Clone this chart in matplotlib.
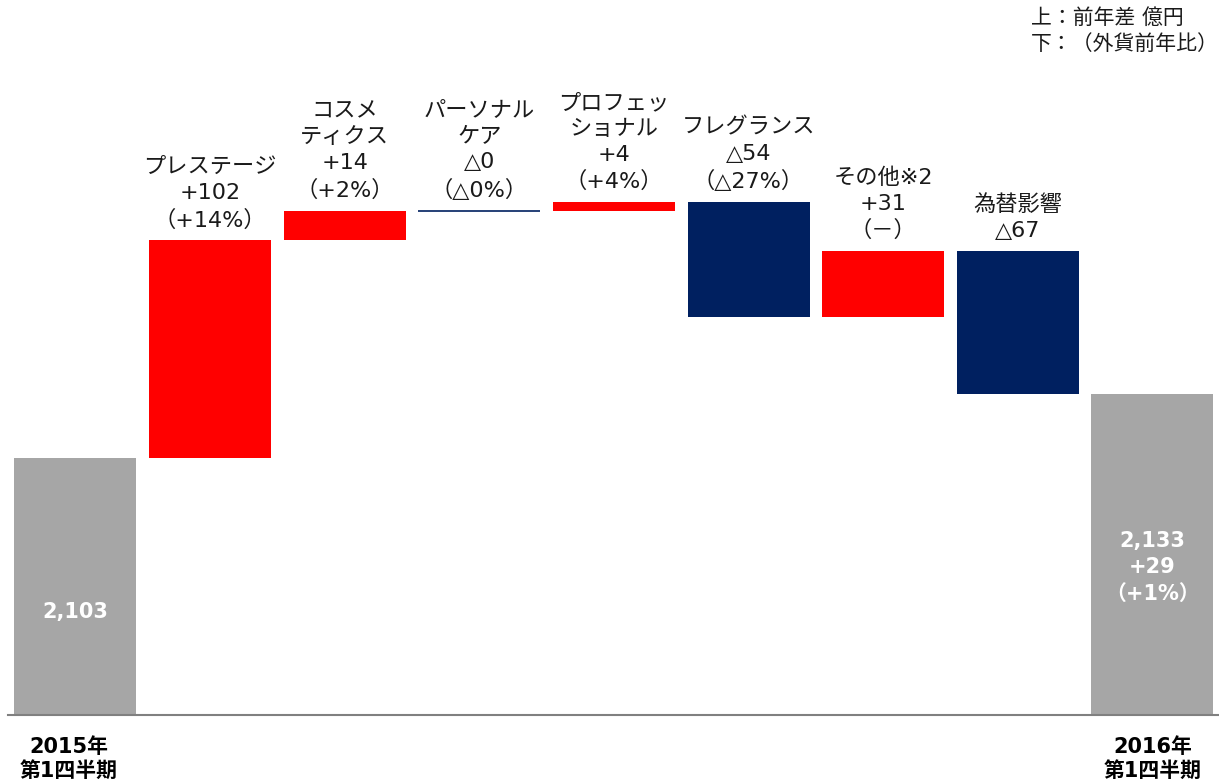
import matplotlib
matplotlib.use('Agg')
import matplotlib.pyplot as plt

plt.rcParams['font.family'] = ['DejaVu Sans', 'Noto Sans CJK JP']

# data
start_label = '2015年\n第1四半期'
end_label = '2016年\n第1四半期'
start_value = 2103
end_value = 2133
end_texts = ['2,133', '+29', '（+1%）']

categories = ['プレステージ', 'コスメ\nティクス', 'パーソナル\nケア', 'プロフェッ\nショナル',
              'フレグランス', 'その他※2', '為替影響']
deltas = [102, 14, 0, 4, -54, 31, -67]
delta_labels = ['+102', '+14', '△0', '+4', '△54', '+31', '△67']
pct_labels = ['（+14%）', '（+2%）', '（△0%）', '（+4%）', '（△27%）', '（－）', '']

RED = '#ff0000'
NAVY = '#002060'
GRAY = '#a6a6a6'
TXT = '#1a1a1a'

fig = plt.figure(figsize=(12.19, 7.82), dpi=100)
ax = fig.add_axes([8 / 1219, 67 / 782, 1211 / 1219, 715 / 782])
ybot = 1982.5
ax.set_xlim(-0.501, 8.495)
ax.set_ylim(ybot, 2317.7)
w = 0.906

# start / end bars
n = len(deltas) + 1
ax.bar(0, start_value - ybot, bottom=ybot, width=w, color=GRAY)
ax.bar(n, end_value - ybot, bottom=ybot, width=w, color=GRAY)
ax.text(0, ybot + 0.40 * (start_value - ybot), f'{start_value:,}', color='white',
        fontsize=15, fontweight='bold', ha='center', va='center')
ax.text(n, ybot + 0.46 * (end_value - ybot), '\n'.join(end_texts), color='white',
        fontsize=15, fontweight='bold', ha='center', va='center', linespacing=1.4)

# changes
level = start_value
for i, d in enumerate(deltas):
    x = i + 1
    if d == 0:
        ax.hlines(level, x - w / 2, x + w / 2, color=NAVY, lw=1.2)
    else:
        ax.bar(x, d, bottom=level, width=w, color=RED if d > 0 else NAVY)
    top = max(level, level + d)
    lines = [categories[i], delta_labels[i]]
    if pct_labels[i]:
        lines.append(pct_labels[i])
    ax.annotate('\n'.join(lines), (x, top), xytext=(0, 7), textcoords='offset points',
                ha='center', va='bottom', fontsize=16, color=TXT, linespacing=1.37)
    level += d

# category labels under the axis
for x, lab in [(0, start_label), (n, end_label)]:
    ax.annotate(lab, (x, ybot), xytext=(-5 if x == 0 else 0, -16), textcoords='offset points',
                ha='center', va='top', fontsize=15, fontweight='bold', color='black',
                linespacing=1.2, annotation_clip=False)

fig.text(1031 / 1219, 1 - 8 / 782, '上：前年差 億円\n下：（外貨前年比）', ha='left', va='top',
         fontsize=15, color=TXT, linespacing=1.4)

for s in ['top', 'left', 'right']:
    ax.spines[s].set_visible(False)
ax.spines['bottom'].set_color('#808080')
ax.spines['bottom'].set_linewidth(1.5)
ax.set_xticks([])
ax.set_yticks([])
ax.patch.set_alpha(0)

fig.savefig('out.png', dpi=100)
